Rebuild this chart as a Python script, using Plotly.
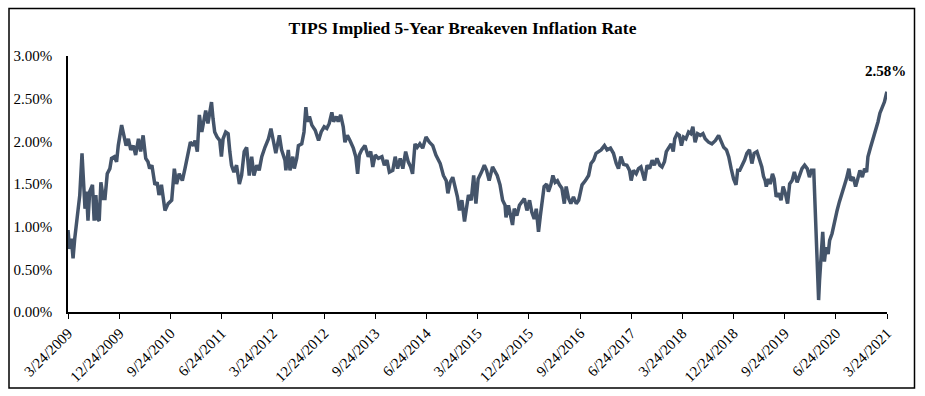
import plotly.graph_objects as go

# Values (5-year breakeven, in percent)
dates = [
    "2009-03-24", "2009-04-02", "2009-04-11", "2009-04-20", "2009-04-29", "2009-05-08", "2009-05-26",
    "2009-06-07", "2009-06-16", "2009-06-23", "2009-07-01", "2009-07-09", "2009-07-18", "2009-08-02",
    "2009-08-11", "2009-08-20", "2009-08-29", "2009-09-07", "2009-09-16", "2009-09-29", "2009-10-08",
    "2009-10-20", "2009-11-03", "2009-11-12", "2009-11-27", "2009-12-09", "2009-12-18", "2010-01-05",
    "2010-01-17", "2010-01-29", "2010-02-10", "2010-02-23", "2010-03-09", "2010-03-21", "2010-04-05",
    "2010-04-17", "2010-04-30", "2010-05-14", "2010-05-26", "2010-06-04", "2010-06-16", "2010-07-02",
    "2010-07-14", "2010-07-24", "2010-08-06", "2010-08-25", "2010-09-11", "2010-09-30", "2010-10-14",
    "2010-10-26", "2010-11-09", "2010-11-26", "2010-12-10", "2010-12-24", "2011-01-08", "2011-01-24",
    "2011-02-02", "2011-02-14", "2011-02-25", "2011-03-10", "2011-03-21", "2011-03-31", "2011-04-12",
    "2011-04-21", "2011-05-01", "2011-05-09", "2011-05-18", "2011-05-31", "2011-06-14", "2011-06-23",
    "2011-07-02", "2011-07-16", "2011-07-29", "2011-08-07", "2011-08-16", "2011-08-29", "2011-09-12",
    "2011-09-27", "2011-10-09", "2011-10-23", "2011-11-05", "2011-11-19", "2011-12-02", "2011-12-14",
    "2011-12-29", "2012-01-11", "2012-01-25", "2012-02-11", "2012-03-01", "2012-03-14", "2012-03-26",
    "2012-04-09", "2012-04-28", "2012-05-10", "2012-05-28", "2012-06-02", "2012-06-15", "2012-06-24",
    "2012-07-09", "2012-07-17", "2012-07-30", "2012-08-08", "2012-08-26", "2012-09-07", "2012-09-17",
    "2012-09-25", "2012-10-06", "2012-10-19", "2012-11-06", "2012-11-24", "2012-12-08", "2012-12-24",
    "2013-01-07", "2013-01-20", "2013-02-03", "2013-02-12", "2013-02-27", "2013-03-09", "2013-03-22",
    "2013-04-05", "2013-04-14", "2013-04-27", "2013-05-11", "2013-05-29", "2013-06-11", "2013-06-21",
    "2013-06-30", "2013-07-13", "2013-07-30", "2013-08-17", "2013-08-30", "2013-09-10", "2013-09-23",
    "2013-10-10", "2013-10-29", "2013-11-11", "2013-11-25", "2013-12-08", "2013-12-26", "2014-01-08",
    "2014-01-21", "2014-02-04", "2014-02-18", "2014-03-05", "2014-03-19", "2014-04-01", "2014-04-11",
    "2014-04-24", "2014-05-06", "2014-05-20", "2014-06-04", "2014-06-22", "2014-07-10", "2014-07-28",
    "2014-08-14", "2014-09-06", "2014-09-23", "2014-10-08", "2014-10-17", "2014-10-29", "2014-11-12",
    "2014-11-25", "2014-12-07", "2014-12-18", "2014-12-31", "2015-01-14", "2015-01-23", "2015-02-04",
    "2015-02-19", "2015-03-04", "2015-03-16", "2015-03-28", "2015-04-15", "2015-04-30", "2015-05-12",
    "2015-05-26", "2015-06-13", "2015-06-26", "2015-07-08", "2015-07-23", "2015-08-06", "2015-08-19",
    "2015-08-24", "2015-09-06", "2015-09-15", "2015-09-28", "2015-10-07", "2015-10-21", "2015-11-04",
    "2015-11-17", "2015-11-30", "2015-12-14", "2015-12-28", "2016-01-09", "2016-01-22", "2016-02-02",
    "2016-02-14", "2016-02-24", "2016-03-04", "2016-03-15", "2016-03-29", "2016-04-07", "2016-04-20",
    "2016-05-01", "2016-05-13", "2016-05-25", "2016-06-05", "2016-06-18", "2016-07-01", "2016-07-11",
    "2016-07-24", "2016-08-05", "2016-08-19", "2016-09-03", "2016-09-16", "2016-10-04", "2016-10-22",
    "2016-11-08", "2016-11-21", "2016-12-05", "2016-12-18", "2017-01-01", "2017-01-14", "2017-02-01",
    "2017-02-15", "2017-03-05", "2017-03-21", "2017-04-05", "2017-04-17", "2017-04-30", "2017-05-14",
    "2017-06-01", "2017-06-15", "2017-06-24", "2017-07-06", "2017-07-21", "2017-08-02", "2017-08-15",
    "2017-08-26", "2017-09-04", "2017-09-17", "2017-10-01", "2017-10-14", "2017-10-26", "2017-11-09",
    "2017-11-24", "2017-12-06", "2017-12-19", "2017-12-29", "2018-01-11", "2018-01-24", "2018-02-04",
    "2018-02-12", "2018-02-25", "2018-03-09", "2018-03-20", "2018-03-31", "2018-04-13", "2018-04-27",
    "2018-05-09", "2018-05-20", "2018-06-01", "2018-06-14", "2018-06-29", "2018-07-13", "2018-07-25",
    "2018-08-12", "2018-08-30", "2018-09-18", "2018-10-05", "2018-10-18", "2018-11-01", "2018-11-16",
    "2018-11-28", "2018-12-11", "2018-12-24", "2019-01-06", "2019-01-15", "2019-01-26", "2019-02-08",
    "2019-02-21", "2019-03-05", "2019-03-19", "2019-04-01", "2019-04-13", "2019-04-28", "2019-05-12",
    "2019-05-24", "2019-06-02", "2019-06-11", "2019-06-17", "2019-06-29", "2019-07-08", "2019-07-20",
    "2019-07-29", "2019-08-09", "2019-08-22", "2019-09-04", "2019-09-15", "2019-09-27", "2019-10-09",
    "2019-10-20", "2019-11-02", "2019-11-14", "2019-11-29", "2019-12-12", "2019-12-25", "2020-01-08",
    "2020-01-22", "2020-02-03", "2020-02-13", "2020-02-26", "2020-03-02", "2020-03-09", "2020-03-15",
    "2020-03-23", "2020-03-28", "2020-04-05", "2020-04-14", "2020-04-23", "2020-05-02", "2020-05-13",
    "2020-05-21", "2020-06-03", "2020-06-16", "2020-06-30", "2020-07-12", "2020-07-27", "2020-08-08",
    "2020-08-19", "2020-09-01", "2020-09-10", "2020-09-24", "2020-10-07", "2020-10-16", "2020-10-30",
    "2020-11-12", "2020-11-24", "2020-12-05", "2020-12-12", "2020-12-26", "2021-01-09", "2021-01-22",
    "2021-02-04", "2021-02-14", "2021-02-28", "2021-03-10", "2021-03-21", "2021-03-24",
]

breakeven = [
    0.96, 0.74, 0.86, 0.63, 0.86, 1.06, 1.37,
    1.86, 1.49, 1.21, 1.41, 1.07, 1.41, 1.49,
    1.07, 1.37, 1.09, 1.07, 1.52, 1.33, 1.33,
    1.62, 1.68, 1.80, 1.82, 1.76, 1.95, 2.19,
    2.07, 1.95, 2.03, 1.90, 1.95, 1.84, 2.03,
    1.88, 2.07, 1.80, 1.76, 1.68, 1.72, 1.49,
    1.52, 1.37, 1.49, 1.19, 1.27, 1.31, 1.68,
    1.50, 1.62, 1.54, 1.68, 1.84, 1.99, 1.95,
    2.01, 1.88, 2.31, 2.11, 2.23, 2.36, 2.21,
    2.34, 2.46, 2.27, 2.11, 2.05, 2.01, 1.82,
    2.03, 2.11, 2.09, 1.88, 1.72, 1.64, 1.72,
    1.50, 1.60, 1.88, 1.93, 1.60, 1.82, 1.60,
    1.72, 1.66, 1.82, 1.93, 2.03, 2.15, 1.99,
    1.86, 2.07, 1.90, 1.78, 1.66, 1.90, 1.66,
    1.82, 1.68, 1.80, 1.95, 1.97, 2.11, 2.40,
    2.23, 2.29, 2.19, 2.13, 2.01, 2.11, 2.17,
    2.15, 2.21, 2.34, 2.23, 2.29, 2.23, 2.31,
    2.17, 1.99, 2.07, 2.01, 1.92, 1.82, 1.62,
    1.84, 1.90, 1.95, 1.82, 1.88, 1.70, 1.84,
    1.80, 1.82, 1.72, 1.78, 1.64, 1.66, 1.82,
    1.68, 1.80, 1.68, 1.88, 1.76, 1.70, 1.62,
    1.97, 1.93, 1.97, 1.92, 2.05, 1.99, 1.95,
    1.84, 1.74, 1.60, 1.54, 1.39, 1.52, 1.58,
    1.45, 1.35, 1.19, 1.31, 1.06, 1.19, 1.37,
    1.31, 1.60, 1.27, 1.56, 1.64, 1.72, 1.66,
    1.54, 1.70, 1.64, 1.60, 1.49, 1.31, 1.25,
    1.11, 1.25, 1.15, 1.02, 1.21, 1.13, 1.25,
    1.29, 1.33, 1.19, 1.31, 1.17, 1.09, 1.21,
    0.94, 1.13, 1.33, 1.47, 1.50, 1.41, 1.49,
    1.60, 1.52, 1.54, 1.49, 1.45, 1.27, 1.47,
    1.33, 1.27, 1.35, 1.27, 1.31, 1.49, 1.54,
    1.60, 1.74, 1.78, 1.86, 1.88, 1.90, 1.95,
    1.90, 1.92, 1.86, 1.74, 1.68, 1.82, 1.73,
    1.72, 1.66, 1.54, 1.66, 1.62, 1.68, 1.70,
    1.60, 1.54, 1.72, 1.68, 1.78, 1.72, 1.80,
    1.72, 1.70, 1.76, 1.88, 1.93, 1.97, 1.88,
    2.03, 2.09, 2.07, 1.95, 2.05, 2.03, 2.11,
    2.09, 2.17, 1.99, 2.09, 2.07, 2.09, 2.03,
    1.99, 1.97, 2.01, 2.07, 2.01, 1.93, 1.90,
    1.82, 1.68, 1.56, 1.49, 1.66, 1.66, 1.72,
    1.78, 1.86, 1.90, 1.74, 1.86, 1.88, 1.79,
    1.70, 1.59, 1.54, 1.47, 1.56, 1.50, 1.62,
    1.56, 1.35, 1.39, 1.31, 1.47, 1.39, 1.27,
    1.50, 1.54, 1.64, 1.52, 1.60, 1.68, 1.72,
    1.68, 1.58, 1.66, 1.66, 1.35, 1.00, 0.68,
    0.14, 0.37, 0.72, 0.94, 0.59, 0.76, 0.68,
    0.84, 0.92, 1.07, 1.19, 1.29, 1.39, 1.47,
    1.56, 1.68, 1.54, 1.58, 1.47, 1.54, 1.66,
    1.58, 1.68, 1.64, 1.82, 1.93, 2.03, 2.15,
    2.23, 2.33, 2.40, 2.46, 2.56, 2.58,
]

tick_dates = [
    "2009-03-24", "2009-12-24", "2010-09-24", "2011-06-24", "2012-03-24", "2012-12-24",
    "2013-09-24", "2014-06-24", "2015-03-24", "2015-12-24", "2016-09-24", "2017-06-24",
    "2018-03-24", "2018-12-24", "2019-09-24", "2020-06-24", "2021-03-24",
]
tick_labels = [
    "3/24/2009", "12/24/2009", "9/24/2010", "6/24/2011", "3/24/2012", "12/24/2012",
    "9/24/2013", "6/24/2014", "3/24/2015", "12/24/2015", "9/24/2016", "6/24/2017",
    "3/24/2018", "12/24/2018", "9/24/2019", "6/24/2020", "3/24/2021",
]
y_ticks = [0.0, 0.5, 1.0, 1.5, 2.0, 2.5, 3.0]
y_tick_labels = ["0.00%", "0.50%", "1.00%", "1.50%", "2.00%", "2.50%", "3.00%"]

title_text = "TIPS Implied 5-Year Breakeven Inflation Rate"
last_label = "2.58%"

FONT = "Liberation Serif, Times New Roman, serif"
LINE_COLOR = "#44546A"

fig = go.Figure()
fig.add_trace(go.Scatter(
    x=dates, y=breakeven, mode="lines",
    line=dict(color=LINE_COLOR, width=3.5),
    showlegend=False, hoverinfo="x+y",
))

fig.add_annotation(
    x=dates[-1], y=breakeven[-1], text="<b>" + last_label + "</b>",
    showarrow=False, xanchor="center", yanchor="middle", yshift=21, xshift=-2,
    font=dict(family=FONT, size=15, color="black"),
)

W, H = 925, 396
ml, mr, mt, mb = 68, 38, 56, 84
pw, ph = W - ml - mr, H - mt - mb
# outer border of chart box (pixel coordinates -> paper coords)
bx0, bx1, by0, by1 = 9, 914.5, 8.5, 388
fig.add_shape(
    type="rect", xref="paper", yref="paper",
    x0=(bx0 - ml) / pw, x1=(bx1 - ml) / pw,
    y0=(H - mb - by1) / ph, y1=(H - mb - by0) / ph,
    line=dict(color="black", width=1.5), fillcolor="rgba(0,0,0,0)", layer="below",
)

fig.update_layout(
    width=W, height=H,
    margin=dict(l=ml, r=mr, t=mt, b=mb, autoexpand=False),
    paper_bgcolor="white", plot_bgcolor="white",
    font=dict(family=FONT, size=15, color="black"),
    title=dict(
        text="<b>" + title_text + "</b>",
        x=0.5, xref="container", xanchor="center",
        y=1 - 28 / H, yref="container", yanchor="middle",
        font=dict(family=FONT, size=17.5, color="black"),
    ),
    xaxis=dict(
        type="date",
        range=[tick_dates[0], tick_dates[-1]],
        tickvals=tick_dates, ticktext=tick_labels,
        tickangle=-45,
        showgrid=False, zeroline=False,
        showline=True, linecolor="black", linewidth=1.5,
        ticks="outside", ticklen=5, tickcolor="black", tickwidth=1.2,
        tickfont=dict(family=FONT, size=15, color="black"),
        automargin=False,
    ),
    yaxis=dict(
        range=[0, 3.0],
        tickvals=y_ticks, ticktext=y_tick_labels,
        showgrid=False, zeroline=False,
        showline=True, linecolor="black", linewidth=1.5,
        ticks="", ticklabelstandoff=11,
        tickfont=dict(family=FONT, size=15, color="black"),
        automargin=False,
    ),
)

fig.write_html(
    "out.html",
    config={"displayModeBar": False},
    post_script="document.body.style.margin='0';document.body.style.padding='0';"
                "document.body.style.overflow='hidden';",
)
